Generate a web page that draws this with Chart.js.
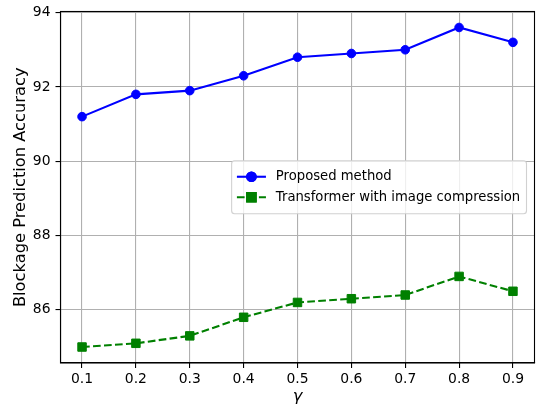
<!DOCTYPE html>
<html>
<head>
<meta charset="utf-8">
<script src="https://cdn.jsdelivr.net/npm/chart.js@4/dist/chart.umd.min.js"></script>
<style>
  html, body { margin: 0; padding: 0; background: #ffffff; }
  canvas { display: block; }
</style>
</head>
<body>
<canvas id="c" width="537" height="408"></canvas>
<script>
// gamma values on the x axis
const gammas = [0.1, 0.2, 0.3, 0.4, 0.5, 0.6, 0.7, 0.8, 0.9];
// accuracy of each method
const proposed = [91.2, 91.8, 91.9, 92.3, 92.8, 92.9, 93.0, 93.6, 93.2];
const transformerCompressed = [85.0, 85.1, 85.3, 85.8, 86.2, 86.3, 86.4, 86.9, 86.5];
// y tick labels
const yTicks = [86, 88, 90, 92, 94];

const FONT = "'DejaVu Sans', sans-serif";
const FS = 13.9;       // tick labels
const FS_TITLE = 16.3; // axis titles
const FS_LEG = 13.2;   // legend entries

const toPoints = (ys) => gammas.map((g, i) => ({ x: g, y: ys[i] }));

// top/right spines and a boxed legend at the centre right of the plot
const framePlugin = {
  id: 'frame',
  afterDatasetsDraw(chart) {
    const { ctx, chartArea: a } = chart;
    ctx.save();
    ctx.strokeStyle = '#000000';
    ctx.lineWidth = 1.1;
    ctx.strokeRect(a.left, a.top, a.right - a.left, a.bottom - a.top);
    ctx.restore();
  },
  afterDraw(chart) {
    const { ctx, chartArea: a } = chart;
    const ds = chart.data.datasets;
    ctx.save();
    ctx.font = FS_LEG + 'px ' + FONT;
    const em = FS_LEG;
    const pad = 0.4 * em, handle = 2.2 * em, gap = 0.75 * em, rowH = 20.5;
    const textW = Math.max(...ds.map(d => ctx.measureText(d.label).width));
    const w = pad * 2 + handle + gap + textW + 1;
    const h = pad * 2 + rowH * ds.length + 1.5;
    const x0 = a.right - 8 - w;
    const y0 = (a.top + a.bottom) / 2 - h / 2;
    // box
    ctx.beginPath();
    ctx.roundRect(x0, y0, w, h, 3);
    ctx.fillStyle = 'rgba(255,255,255,0.8)';
    ctx.fill();
    ctx.strokeStyle = 'rgba(204,204,204,0.9)';
    ctx.lineWidth = 1.1;
    ctx.stroke();
    ds.forEach((d, i) => {
      const cy = y0 + pad + rowH * i + rowH / 2 + 0.5;
      const hx0 = x0 + pad, hx1 = hx0 + handle;
      ctx.beginPath();
      ctx.setLineDash(d.borderDash || []);
      ctx.moveTo(hx0, cy);
      ctx.lineTo(hx1, cy);
      ctx.strokeStyle = d.borderColor;
      ctx.lineWidth = d.borderWidth;
      ctx.stroke();
      ctx.setLineDash([]);
      Chart.helpers.drawPoint(ctx, {
        pointStyle: d.pointStyle,
        radius: d.pointRadius,
        borderWidth: 1
      }, (hx0 + hx1) / 2, cy);
      ctx.fillStyle = d.pointBackgroundColor;
      ctx.strokeStyle = d.pointBorderColor;
      ctx.fill();
      ctx.stroke();
      ctx.fillStyle = '#000000';
      ctx.textBaseline = 'middle';
      ctx.textAlign = 'left';
      ctx.fillText(d.label, hx1 + gap, cy);
    });
    ctx.restore();
  }
};

new Chart(document.getElementById('c'), {
  type: 'line',
  data: {
    datasets: [
      {
        label: 'Proposed method',
        data: toPoints(proposed),
        borderColor: '#0000ff',
        backgroundColor: '#0000ff',
        pointBackgroundColor: '#0000ff',
        pointBorderColor: '#0000ff',
        borderWidth: 2.1,
        pointStyle: 'circle',
        pointRadius: 4.3,
        pointBorderWidth: 1,
        tension: 0
      },
      {
        label: 'Transformer with image compression',
        data: toPoints(transformerCompressed),
        borderColor: '#008000',
        backgroundColor: '#008000',
        pointBackgroundColor: '#008000',
        pointBorderColor: '#008000',
        borderWidth: 2.1,
        borderDash: [7.7, 3.3],
        pointStyle: 'rect',
        pointRadius: 6,
        pointBorderWidth: 1,
        tension: 0
      }
    ]
  },
  options: {
    responsive: false,
    animation: false,
    devicePixelRatio: 1,
    layout: { autoPadding: false, padding: { top: 11.5, right: 2.5, left: 0, bottom: 0 } },
    plugins: {
      legend: { display: false },
      tooltip: { enabled: false }
    },
    scales: {
      x: {
        type: 'linear',
        min: 0.06,
        max: 0.94,
        afterBuildTicks: (s) => { s.ticks = gammas.map(v => ({ value: v })); },
        afterFit: (s) => { s.height = 45; s.paddingLeft = 0; s.paddingRight = 0; },
        ticks: {
          callback: (v) => Number(v).toFixed(1),
          color: '#000000',
          font: { family: FONT, size: FS },
          padding: 3,
          maxRotation: 0,
          autoSkip: false
        },
        grid: {
          color: '#b0b0b0',
          lineWidth: 1.1,
          tickColor: '#000000',
          tickLength: 5,
          tickWidth: 1.1
        },
        border: { display: true, color: '#000000', width: 1.1 },
        title: {
          display: true,
          text: 'γ',
          color: '#000000',
          font: { family: FONT, size: FS_TITLE, style: 'italic' },
          padding: { top: 0, bottom: 1 }
        }
      },
      y: {
        type: 'linear',
        min: 84.57,
        max: 94.03,
        afterBuildTicks: (s) => { s.ticks = yTicks.map(v => ({ value: v })); },
        afterFit: (s) => { s.width = 60.5; s.paddingTop = 0; s.paddingBottom = 0; },
        ticks: {
          color: '#000000',
          font: { family: FONT, size: FS },
          padding: 5
        },
        grid: {
          color: '#b0b0b0',
          lineWidth: 1.1,
          tickColor: '#000000',
          tickLength: 5,
          tickWidth: 1.1
        },
        border: { display: true, color: '#000000', width: 1.1 },
        title: {
          display: true,
          text: 'Blockage Prediction Accuracy',
          color: '#000000',
          font: { family: FONT, size: FS_TITLE },
          padding: { top: 10.5, bottom: 0 }
        }
      }
    }
  },
  plugins: [framePlugin]
});
</script>
</body>
</html>
